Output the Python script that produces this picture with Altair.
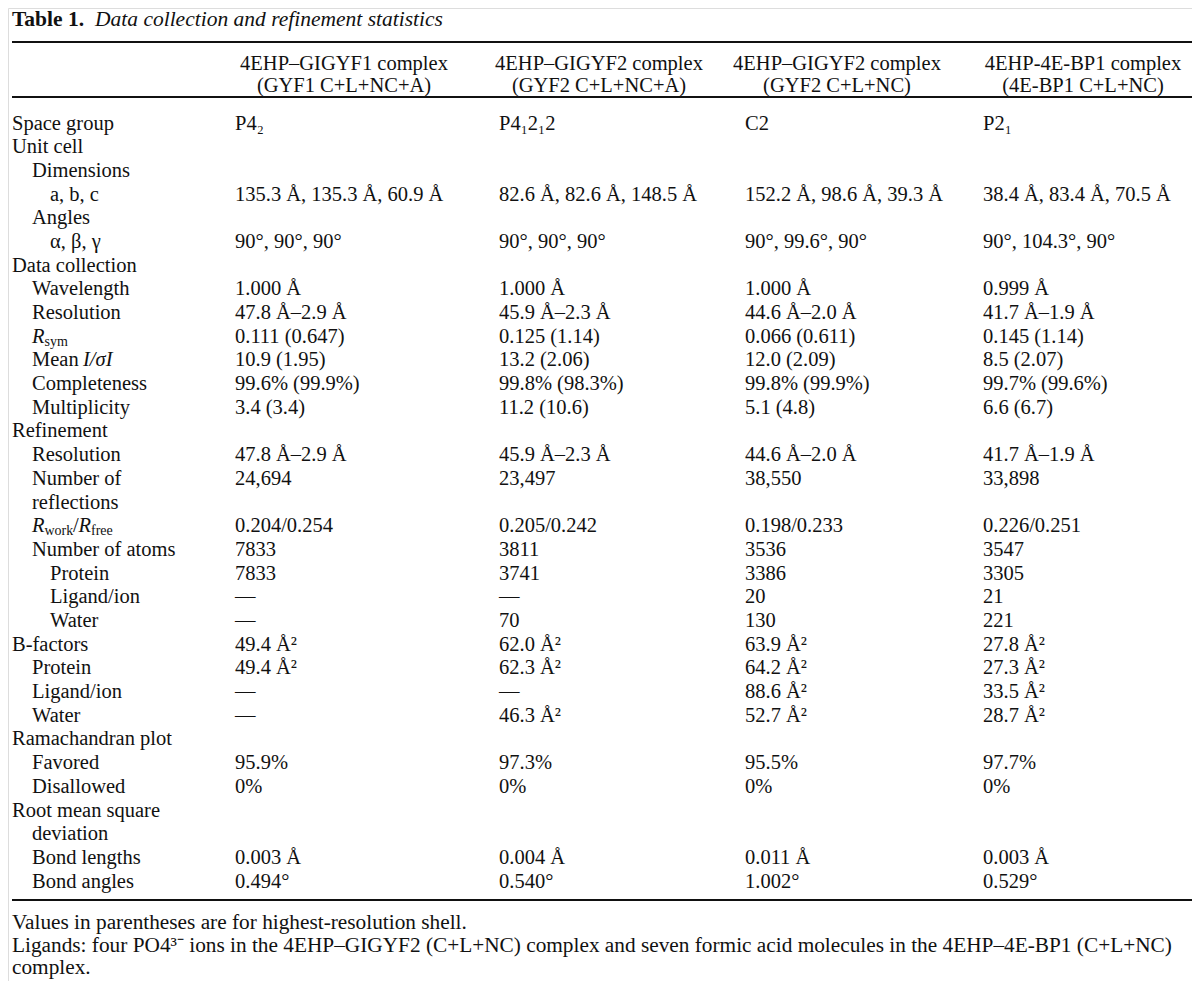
import altair as alt
import pandas as pd

# ---------------- data ----------------
TITLE_BOLD = "Table 1."
TITLE_ITALIC = "Data collection and refinement statistics"

HEADERS = ["4EHP–GIGYF1 complex", "4EHP–GIGYF2 complex", "4EHP–GIGYF2 complex", "4EHP-4E-BP1 complex"]
SUBHEADERS = ["(GYF1 C+L+NC+A)", "(GYF2 C+L+NC+A)", "(GYF2 C+L+NC)", "(4E-BP1 C+L+NC)"]

ROW_LABELS = ["Space group", "Unit cell", "Dimensions", "a, b, c", "Angles", "α, β, γ",
              "Data collection", "Wavelength", "Resolution", "Rsym", "Mean I/σI",
              "Completeness", "Multiplicity", "Refinement", "Resolution", "Number of",
              "reflections", "Rwork/Rfree", "Number of atoms", "Protein", "Ligand/ion", "Water",
              "B-factors", "Protein", "Ligand/ion", "Water", "Ramachandran plot", "Favored",
              "Disallowed", "Root mean square", "deviation", "Bond lengths", "Bond angles"]
INDENTS = [0, 0, 1, 2, 1, 2, 0, 1, 1, 1, 1, 1, 1, 0, 1, 1, 1, 1, 1, 2, 2, 2, 0, 1, 1, 1, 0, 1, 1, 0, 1, 1, 1]

COL1 = ["P4₂", "", "", "135.3 Å, 135.3 Å, 60.9 Å", "", "90°, 90°, 90°", "", "1.000 Å",
        "47.8 Å–2.9 Å", "0.111 (0.647)", "10.9 (1.95)", "99.6% (99.9%)", "3.4 (3.4)", "",
        "47.8 Å–2.9 Å", "24,694", "", "0.204/0.254", "7833", "7833", "—", "—", "49.4 Å²",
        "49.4 Å²", "—", "—", "", "95.9%", "0%", "", "", "0.003 Å", "0.494°"]
COL2 = ["P4₁2₁2", "", "", "82.6 Å, 82.6 Å, 148.5 Å", "", "90°, 90°, 90°", "", "1.000 Å",
        "45.9 Å–2.3 Å", "0.125 (1.14)", "13.2 (2.06)", "99.8% (98.3%)", "11.2 (10.6)", "",
        "45.9 Å–2.3 Å", "23,497", "", "0.205/0.242", "3811", "3741", "—", "70", "62.0 Å²",
        "62.3 Å²", "—", "46.3 Å²", "", "97.3%", "0%", "", "", "0.004 Å", "0.540°"]
COL3 = ["C2", "", "", "152.2 Å, 98.6 Å, 39.3 Å", "", "90°, 99.6°, 90°", "", "1.000 Å",
        "44.6 Å–2.0 Å", "0.066 (0.611)", "12.0 (2.09)", "99.8% (99.9%)", "5.1 (4.8)", "",
        "44.6 Å–2.0 Å", "38,550", "", "0.198/0.233", "3536", "3386", "20", "130", "63.9 Å²",
        "64.2 Å²", "88.6 Å²", "52.7 Å²", "", "95.5%", "0%", "", "", "0.011 Å", "1.002°"]
COL4 = ["P2₁", "", "", "38.4 Å, 83.4 Å, 70.5 Å", "", "90°, 104.3°, 90°", "", "0.999 Å",
        "41.7 Å–1.9 Å", "0.145 (1.14)", "8.5 (2.07)", "99.7% (99.6%)", "6.6 (6.7)", "",
        "41.7 Å–1.9 Å", "33,898", "", "0.226/0.251", "3547", "3305", "21", "221", "27.8 Å²",
        "27.3 Å²", "33.5 Å²", "28.7 Å²", "", "97.7%", "0%", "", "", "0.003 Å", "0.529°"]

FOOTNOTES = ["Values in parentheses are for highest-resolution shell.",
             "Ligands: four PO4³⁻ ions in the 4EHP–GIGYF2 (C+L+NC) complex and seven formic acid molecules in the 4EHP–4E-BP1 (C+L+NC)",
             "complex."]

# labels that need mixed styling: (text, style, dx) pieces
SPECIAL = {
    "Rsym": [("R", "italic", 0), ("sym", "sub", 12.5)],
    "Mean I/σI": [("Mean", "normal", 0), ("I/σI", "italic", 51)],
    "Rwork/Rfree": [("R", "italic", 0), ("work", "sub", 12.5), ("/", "normal", 41),
                    ("R", "italic", 46.5), ("free", "sub", 59)],
}

# ---------------- layout ----------------
W, H = 1184, 973
FONT = "Liberation Serif"
FS = 20.5
TITLE_FS = 21.5
FOOT_FS = 21.3
SUB_FS = 14
COLOR = "#111111"
LEFT = 12
RIGHT = 1192
INDENT_X = [12, 32, 50]
COL_X = [235, 499, 745, 983]
HEAD_CX = [344, 599, 837, 1083]
ROW0, ROW_H = 123.5, 23.69
TITLE_Y = 20
TITLE_ITALIC_X = 95
HEAD_Y = [64, 86]
RULES_Y = [42, 97, 900]
FOOT_Y = [923, 945.5, 968]

xs = alt.Scale(domain=[8, 8 + W], range=[0, W])
ys = alt.Scale(domain=[8, 8 + H], reverse=True)

normal, italic, bold, sub, centered, foot, title_it = [], [], [], [], [], [], []

bold.append({"x": LEFT, "y": TITLE_Y, "text": TITLE_BOLD})
title_it.append({"x": TITLE_ITALIC_X, "y": TITLE_Y, "text": TITLE_ITALIC})

for h, s, cx in zip(HEADERS, SUBHEADERS, HEAD_CX):
    centered.append({"x": cx, "y": HEAD_Y[0], "text": h})
    centered.append({"x": cx, "y": HEAD_Y[1], "text": s})

for i, (lab, ind) in enumerate(zip(ROW_LABELS, INDENTS)):
    y = ROW0 + i * ROW_H
    x0 = INDENT_X[ind]
    if lab in SPECIAL:
        for txt, style, dx in SPECIAL[lab]:
            rec = {"x": x0 + dx, "y": y, "text": txt}
            if style == "italic":
                italic.append(rec)
            elif style == "sub":
                rec["y"] = y + 5
                sub.append(rec)
            else:
                normal.append(rec)
    else:
        normal.append({"x": x0, "y": y, "text": lab})
    for col, cxv in zip([COL1, COL2, COL3, COL4], COL_X):
        if col[i]:
            normal.append({"x": cxv, "y": y, "text": col[i]})

for t, fy in zip(FOOTNOTES, FOOT_Y):
    foot.append({"x": LEFT, "y": fy, "text": t})

rules = pd.DataFrame({"x": [LEFT] * 3, "x2": [RIGHT] * 3, "y": RULES_Y})


def text_layer(rows, **kw):
    base = dict(font=FONT, fontSize=FS, color=COLOR, align="left", baseline="middle")
    base.update(kw)
    return alt.Chart(pd.DataFrame(rows)).mark_text(**base).encode(
        x=alt.X("x:Q", scale=xs, axis=None),
        y=alt.Y("y:Q", scale=ys, axis=None),
        text="text:N",
    )


rule_layer = alt.Chart(rules).mark_rule(color="#111111", strokeWidth=1.9).encode(
    x=alt.X("x:Q", scale=xs, axis=None),
    x2="x2:Q",
    y=alt.Y("y:Q", scale=ys, axis=None),
)

chart = alt.layer(
    rule_layer,
    text_layer(normal),
    text_layer(italic, fontStyle="italic"),
    text_layer(bold, fontWeight="bold", fontSize=TITLE_FS),
    text_layer(title_it, fontStyle="italic", fontSize=TITLE_FS),
    text_layer(sub, fontSize=SUB_FS),
    text_layer(centered, align="center"),
    text_layer(foot, fontSize=FOOT_FS),
).properties(
    width=W, height=H, padding=0, autosize=alt.AutoSizeParams(type="none")
).configure_view(stroke=None).configure(background="white")

chart.save("out.html", embed_options={"renderer": "svg", "actions": False})
